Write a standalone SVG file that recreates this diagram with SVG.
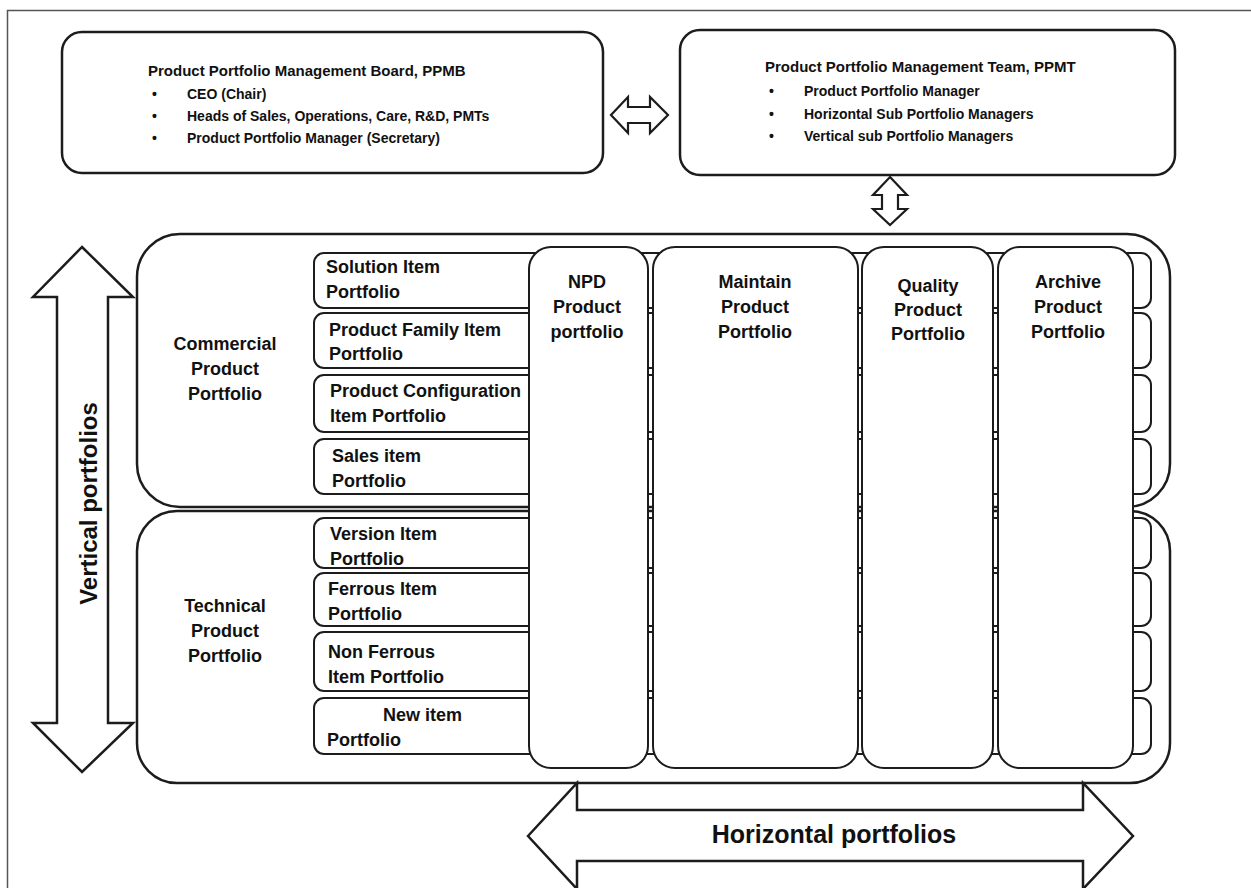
<svg xmlns="http://www.w3.org/2000/svg" width="1251" height="888" viewBox="0 0 1251 888">
<style>
.frame{fill:none;stroke:#555;stroke-width:1.5}
.box{fill:#fff;stroke:#1c1c1c;stroke-width:2.5}
.row{fill:#fff;stroke:#1c1c1c;stroke-width:2}
.col{fill:#fff;stroke:#1c1c1c;stroke-width:2}
.arrow{fill:#fff;stroke:#1c1c1c;stroke-width:2.5;stroke-linejoin:miter}
.conn{fill:#fff;stroke:#1c1c1c;stroke-width:2.2;stroke-linejoin:miter}
text{font-family:"Liberation Sans",Arial,sans-serif;font-weight:bold;fill:#111}
.hdr{font-size:15px}
.li{font-size:14px}
.lbl{font-size:18px}
.c{text-anchor:middle}
.big{font-size:24px}
</style>
<rect width="1251" height="888" fill="#fff"/>
<path class="frame" d="M7.5,888 V10.5 H1251"/>

<g id="ppmb">
<rect class="box" x="62" y="32" width="541" height="141" rx="20"/>
<text class="hdr" x="148" y="76">Product Portfolio Management Board, PPMB</text>
<text class="li" x="152" y="99">•</text><text class="li" x="187" y="99">CEO (Chair)</text>
<text class="li" x="152" y="121">•</text><text class="li" x="187" y="121">Heads of Sales, Operations, Care, R&amp;D, PMTs</text>
<text class="li" x="152" y="143">•</text><text class="li" x="187" y="143">Product Portfolio Manager (Secretary)</text>
</g>

<g id="ppmt">
<rect class="box" x="680" y="30" width="495" height="145" rx="20"/>
<text class="hdr" x="765" y="72">Product Portfolio Management Team, PPMT</text>
<text class="li" x="769" y="96">•</text><text class="li" x="804" y="96">Product Portfolio Manager</text>
<text class="li" x="769" y="119">•</text><text class="li" x="804" y="119">Horizontal Sub Portfolio Managers</text>
<text class="li" x="769" y="141">•</text><text class="li" x="804" y="141">Vertical sub Portfolio Managers</text>
</g>

<g id="connectors">
<path class="conn" d="M611,115 L628,97 L628,107 L650,107 L650,97 L668,115 L650,133 L650,123 L628,123 L628,133 Z"/>
<path class="conn" d="M890,177 L907,195 L898,195 L898,209 L907,209 L890,225 L873,209 L882,209 L882,195 L873,195 Z"/>
</g>

<g id="vertical-portfolios">
<path class="arrow" d="M82,247 L133,297 L108,297 L108,723 L133,723 L82,772 L33,723 L57,723 L57,297 L33,297 Z"/>
<text class="big c" transform="translate(97,503.5) rotate(-90)">Vertical portfolios</text>
</g>

<g id="commercial">
<rect class="box" x="137" y="234" width="1033" height="273" rx="43"/>
<text class="lbl c" x="225" y="350">Commercial</text>
<text class="lbl c" x="225" y="375">Product</text>
<text class="lbl c" x="225" y="400">Portfolio</text>
</g>

<g id="technical">
<rect class="box" x="137" y="511" width="1033" height="272" rx="40"/>
<text class="lbl c" x="225" y="612">Technical</text>
<text class="lbl c" x="225" y="637">Product</text>
<text class="lbl c" x="225" y="662">Portfolio</text>
</g>

<g id="row-solution"><rect class="row" x="314" y="253" width="837" height="55" rx="10"/>
<text class="lbl" x="326" y="273">Solution Item</text><text class="lbl" x="326" y="298">Portfolio</text></g>
<g id="row-family"><rect class="row" x="314" y="313" width="837" height="55" rx="10"/>
<text class="lbl" x="329" y="336">Product Family Item</text><text class="lbl" x="329" y="360">Portfolio</text></g>
<g id="row-config"><rect class="row" x="314" y="375" width="837" height="57" rx="10"/>
<text class="lbl" x="330" y="397">Product Configuration</text><text class="lbl" x="330" y="422">Item Portfolio</text></g>
<g id="row-sales"><rect class="row" x="314" y="439" width="837" height="55" rx="10"/>
<text class="lbl" x="332" y="462">Sales item</text><text class="lbl" x="332" y="487">Portfolio</text></g>
<g id="row-version"><rect class="row" x="314" y="518" width="837" height="50" rx="10"/>
<text class="lbl" x="330" y="540">Version Item</text><text class="lbl" x="330" y="565">Portfolio</text></g>
<g id="row-ferrous"><rect class="row" x="314" y="573" width="837" height="53" rx="10"/>
<text class="lbl" x="328" y="595">Ferrous Item</text><text class="lbl" x="328" y="620">Portfolio</text></g>
<g id="row-nonferrous"><rect class="row" x="314" y="632" width="837" height="59" rx="10"/>
<text class="lbl" x="328" y="658">Non Ferrous</text><text class="lbl" x="328" y="683">Item Portfolio</text></g>
<g id="row-new"><rect class="row" x="314" y="698" width="837" height="56" rx="10"/>
<text class="lbl" x="383" y="721">New item</text><text class="lbl" x="327" y="746">Portfolio</text></g>

<g id="col-npd"><rect class="col" x="529" y="247" width="119" height="521" rx="22"/>
<text class="lbl c" x="587" y="288">NPD</text><text class="lbl c" x="587" y="313">Product</text><text class="lbl c" x="587" y="338">portfolio</text></g>
<g id="col-maintain"><rect class="col" x="653" y="247" width="205" height="521" rx="22"/>
<text class="lbl c" x="755" y="288">Maintain</text><text class="lbl c" x="755" y="313">Product</text><text class="lbl c" x="755" y="338">Portfolio</text></g>
<g id="col-quality"><rect class="col" x="862" y="247" width="131" height="521" rx="22"/>
<text class="lbl c" x="928" y="292">Quality</text><text class="lbl c" x="928" y="316">Product</text><text class="lbl c" x="928" y="340">Portfolio</text></g>
<g id="col-archive"><rect class="col" x="998" y="247" width="135" height="521" rx="22"/>
<text class="lbl c" x="1068" y="288">Archive</text><text class="lbl c" x="1068" y="313">Product</text><text class="lbl c" x="1068" y="338">Portfolio</text></g>

<g id="horizontal-portfolios">
<path class="arrow" d="M528,836 L577,783 L577,810 L1083,810 L1083,783 L1133,836 L1083,889 L1083,861 L577,861 L577,889 Z"/>
<text class="big c" x="834" y="843" style="font-size:25px">Horizontal portfolios</text>
</g>
</svg>
